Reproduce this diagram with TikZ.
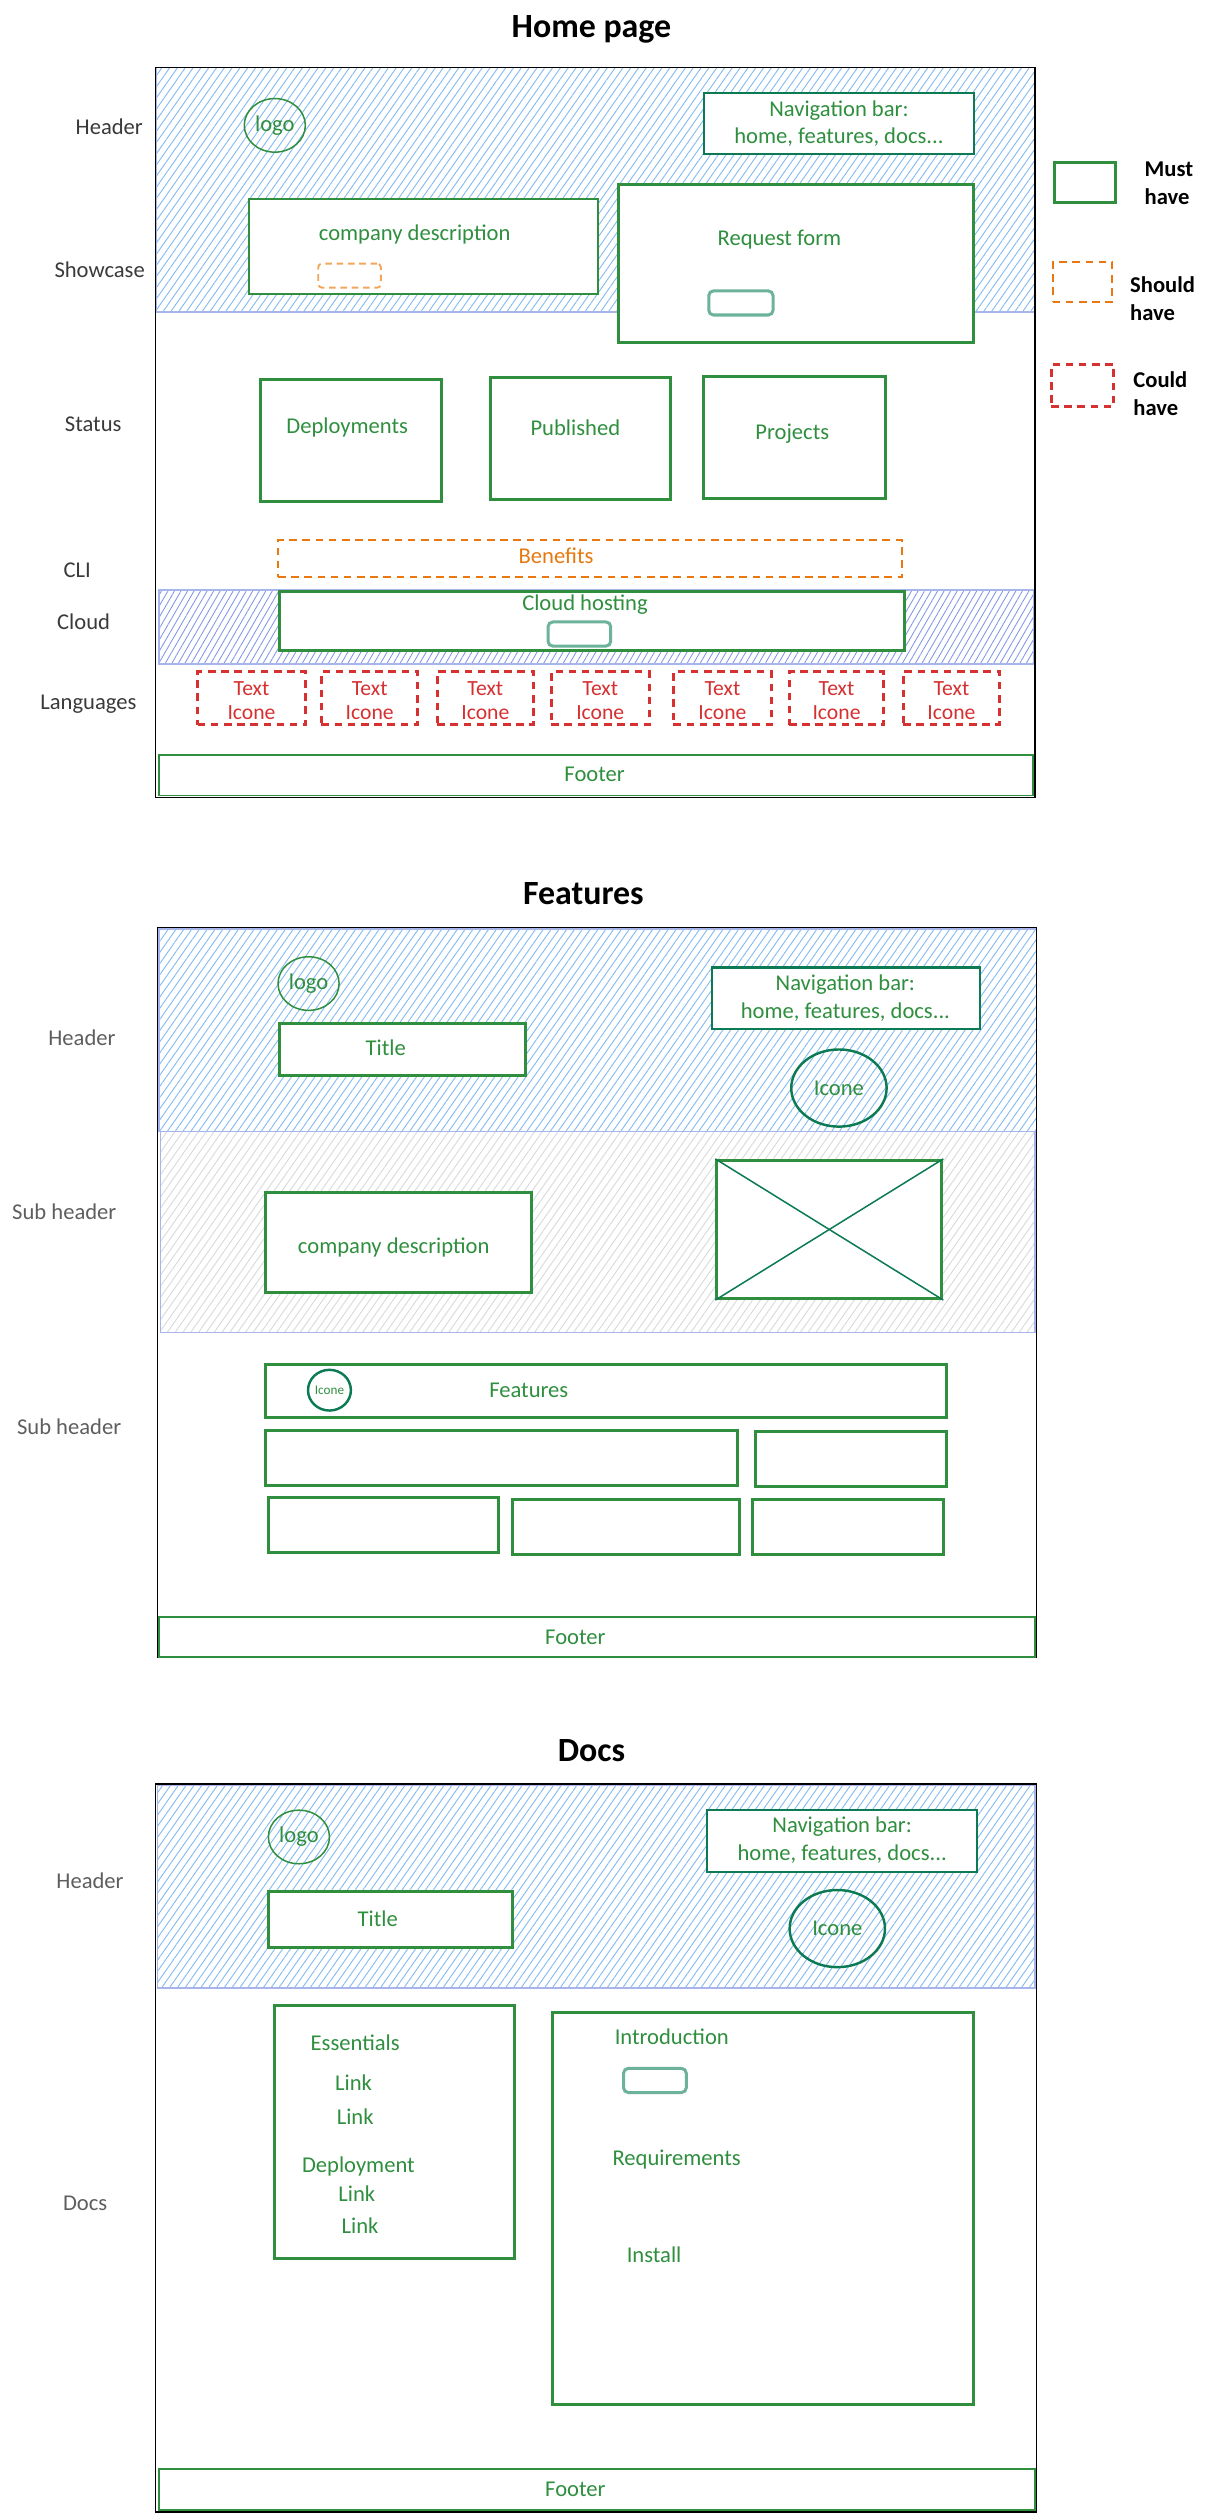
\documentclass[tikz,border=0pt]{standalone}
\usepackage{fontspec}
\setmainfont{Carlito}
\usepackage{xcolor}
\usetikzlibrary{positioning, fit, shapes.geometric, patterns.meta}

\definecolor{mustgreen}{HTML}{2F8F3F}
\definecolor{navgreen}{HTML}{0C7A52}
\definecolor{shouldorange}{HTML}{E8780F}
\definecolor{lightorange}{HTML}{F2A65A}
\definecolor{couldred}{HTML}{D63031}
\definecolor{btnteal}{HTML}{6DB39B}
\definecolor{hatchblue}{HTML}{86BCF0}
\definecolor{hatchedge}{HTML}{A7B5EB}
\definecolor{cloudhatch}{HTML}{8095E6}
\definecolor{grayhatch}{HTML}{DADADA}
\definecolor{sidedark}{HTML}{3A3A3A}
\definecolor{sidegray}{HTML}{5E5E5E}

\begin{document}
\begin{tikzpicture}[x=0.03cm, y=-0.03cm,
        every node/.style={inner sep=0pt, font=\fontsize{12}{14}\selectfont},
        pagetitle/.style={font=\fontsize{18}{20}\selectfont\bfseries},
        legendtext/.style={font=\fontsize{12}{15}\selectfont\bfseries, align=left, anchor=west},
        side/.style={text=sidedark},
        sidelight/.style={text=sidegray},
        txt/.style={text=mustgreen},
        navtxt/.style={text=mustgreen, align=center, font=\fontsize{12}{14.5}\selectfont},
        frame/.style={draw=black, line width=0.6pt},
        headhatch/.style={pattern={Lines[angle=55, distance=3.4pt, line width=0.5pt]}, pattern color=hatchblue, draw=hatchedge, line width=0.8pt},
        cloudband/.style={pattern={Lines[angle=60, distance=3pt, line width=0.45pt]}, pattern color=cloudhatch, draw=hatchedge, line width=0.8pt},
        grayband/.style={pattern={Lines[angle=55, distance=3.4pt, line width=0.5pt]}, pattern color=grayhatch, draw=hatchedge, line width=0.8pt},
        mustbox/.style={draw=mustgreen, line width=1.6pt, fill=white},
        thinbox/.style={draw=mustgreen, line width=1pt, fill=white},
        navbox/.style={draw=navgreen, line width=1.1pt, fill=white},
        shouldbox/.style={draw=shouldorange, line width=1.1pt, dash pattern=on 4pt off 3pt},
        smallshould/.style={draw=lightorange, line width=1pt, dash pattern=on 3.5pt off 2.5pt, rounded corners=2pt},
        couldbox/.style={draw=couldred, line width=1.6pt, dash pattern=on 4pt off 3pt},
        couldtext/.style={text=couldred, align=center, font=\fontsize{11.5}{12.8}\selectfont},
        btn/.style={draw=btnteal, line width=1.6pt, rounded corners=2.5pt, fill=white},
        logocirc/.style={ellipse, draw=mustgreen, line width=0.8pt, text=mustgreen, minimum width=1.14cm, minimum height=1cm},
        iconcirc/.style={ellipse, draw=navgreen, line width=1.3pt, text=mustgreen, minimum width=1.78cm, minimum height=1.44cm}
    ]
    \useasboundingbox (0,0) rectangle (754,1568);

    % Home page
    \node[pagetitle] (hometitle) at (368,18) {Home page};
    \node[headhatch, fit={(97,42) (644,194)}] (homehead) {};
    \node[cloudband, fit={(99,367) (643,413)}] (cloudzone) {};
    \node[frame, fit={(97,42) (644,496)}] (homeframe) {};

    \node[side] (lheader) at (68,79) {Header};
    \node[side] (lshowcase) at (62,168) {Showcase};
    \node[side] (lstatus) at (58,264) {Status};
    \node[side] (lcli) at (48,355) {CLI};
    \node[side] (lcloud) at (52,387) {Cloud};
    \node[side] (llang) at (55,438) {Languages};

    \node[logocirc] (homelogo) at (171,78) {logo};
    \node[navbox, fit={(438,58) (606,96)}] (homenav) {};
    \node[navtxt] (homenavtxt) at (522,77) {Navigation bar:\\home, features, docs...};
    \node[thinbox, fit={(155,124) (372,183)}] (homedesc) {};
    \node[txt] (homedesctxt) at (258,146) {company description};
    \node[smallshould, fit={(198,164) (237,179)}] (homecta) {};
    \node[mustbox, fit={(385,115) (606,213)}] (reqform) {};
    \node[txt] (reqformtxt) at (485,149) {Request form};
    \node[btn, fit={(441,181) (481,196)}] (reqbtn) {};

    \node[mustbox, fit={(162,236) (275,312)}] (deploy) {};
    \node[txt] (deploytxt) at (216,266) {Deployments};
    \node[mustbox, fit={(305,235) (417,311)}] (publish) {};
    \node[txt] (publishtxt) at (358,266) {Published};
    \node[mustbox, fit={(438,234) (551,310)}] (projects) {};
    \node[txt] (projectstxt) at (493,270) {Projects};

    \node[shouldbox, fit={(173,336) (561,359)}] (benefits) {};
    \node[text=shouldorange] (benefitstxt) at (346,346) {Benefits};

    \node[mustbox, fit={(174,368) (563,405)}] (cloudhost) {};
    \node[txt] (cloudhosttxt) at (364,376) {Cloud hosting};
    \node[btn, fit={(341,387) (380,402)}] (cloudbtn) {};

    \foreach \xa/\xb [count=\i] in {123/190, 200/260, 272/332, 343/404, 419/480, 491/550, 562/622} {
        \node[couldbox, fit={(\xa,418) (\xb,451)}] (lang\i) {};
        \node[couldtext] (langtxt\i) at ([yshift=-0.05cm]lang\i.center) {Text\\Icone};
    }

    \node[thinbox, fit={(99,470) (643,495)}] (homefooter) {};
    \node[txt] (homefootertxt) at (370,482) {Footer};

    \node[mustbox, fit={(656,101) (694,126)}] (keymust) {};
    \node[legendtext] (keymusttxt) at (712,114) {Must\\have};
    \node[shouldbox, fit={(655,163) (692,188)}] (keyshould) {};
    \node[legendtext] (keyshouldtxt) at (703,186) {Should\\have};
    \node[couldbox, fit={(654,227) (693,253)}] (keycould) {};
    \node[legendtext] (keycouldtxt) at (705,245) {Could\\have};

    % Features
    \node[pagetitle] (feattitle) at (363,556) {Features};
    \node[headhatch, fit={(99,578) (645,704)}] (feathead) {};
    \node[grayband, fit={(100,704) (644,829)}] (featsub) {};
    \node[frame, fit={(98,577) (645,1031)}] (featframe) {};

    \node[sidelight] (fheader) at (51,646) {Header};
    \node[sidelight] (fsub1) at (40,754) {Sub header};
    \node[sidelight] (fsub2) at (43,888) {Sub header};

    \node[logocirc] (featlogo) at (192,612) {logo};
    \node[mustbox, fit={(174,637) (327,669)}] (feattitlebox) {};
    \node[txt] (feattitletxt) at (240,652) {Title};
    \node[navbox, fit={(443,602) (610,640)}] (featnav) {};
    \node[navtxt] (featnavtxt) at (526,621) {Navigation bar:\\home, features, docs...};
    \node[iconcirc] (featicon) at (522,677) {Icone};

    \node[mustbox, fit={(165,742) (331,804)}] (featdesc) {};
    \node[txt] (featdesctxt) at (245,776) {company description};
    \node[mustbox, fit={(446,722) (586,808)}] (featimg) {};
    \draw[navgreen, line width=0.8pt] (featimg.north west) -- (featimg.south east);
    \draw[navgreen, line width=0.8pt] (featimg.north east) -- (featimg.south west);

    \node[mustbox, fit={(165,849) (589,882)}] (featbar) {};
    \node[txt] (featbartxt) at (329,865) {Features};
    \node[iconcirc, minimum width=0.8cm, minimum height=0.76cm, font=\fontsize{7}{8}\selectfont] (featbaricon) at (205,865) {Icone};
    \node[mustbox, fit={(165,890) (459,924)}] (cell1) {};
    \node[mustbox, fit={(470,891) (589,925)}] (cell2) {};
    \node[mustbox, fit={(167,932) (310,966)}] (cell3) {};
    \node[mustbox, fit={(319,933) (460,967)}] (cell4) {};
    \node[mustbox, fit={(468,933) (587,967)}] (cell5) {};

    \node[thinbox, fit={(99,1006) (644,1031)}] (featfooter) {};
    \node[txt] (featfootertxt) at (358,1019) {Footer};

    % Docs
    \node[pagetitle] (docstitle) at (368,1089) {Docs};
    \node[headhatch, fit={(98,1111) (644,1237)}] (docshead) {};
    \node[frame, fit={(97,1110) (645,1563)}] (docsframe) {};

    \node[sidelight] (dheader) at (56,1170) {Header};
    \node[sidelight] (ddocs) at (53,1371) {Docs};

    \node[logocirc] (docslogo) at (186,1143) {logo};
    \node[navbox, fit={(440,1126) (608,1165)}] (docsnav) {};
    \node[navtxt] (docsnavtxt) at (524,1145) {Navigation bar:\\home, features, docs...};
    \node[mustbox, fit={(167,1177) (319,1212)}] (docstitlebox) {};
    \node[txt] (docstitletxt) at (235,1194) {Title};
    \node[iconcirc] (docsicon) at (521,1200) {Icone};

    \node[mustbox, fit={(171,1248) (320,1405)}] (essentials) {};
    \node[txt] (esstxt) at (221,1271) {Essentials};
    \node[txt] (esslink1) at (220,1296) {Link};
    \node[txt] (esslink2) at (221,1317) {Link};
    \node[txt] (deploytitle) at (223,1348) {Deployment};
    \node[txt] (deplink1) at (222,1365) {Link};
    \node[txt] (deplink2) at (224,1385) {Link};

    \node[mustbox, fit={(344,1252) (606,1496)}] (docbody) {};
    \node[txt] (introtxt) at (418,1267) {Introduction};
    \node[btn, fit={(388,1287) (427,1302)}] (introbtn) {};
    \node[txt] (reqtxt) at (421,1344) {Requirements};
    \node[txt] (installtxt) at (407,1403) {Install};

    \node[thinbox, fit={(99,1536) (644,1562)}] (docsfooter) {};
    \node[txt] (docsfootertxt) at (358,1549) {Footer};
\end{tikzpicture}
\end{document}
